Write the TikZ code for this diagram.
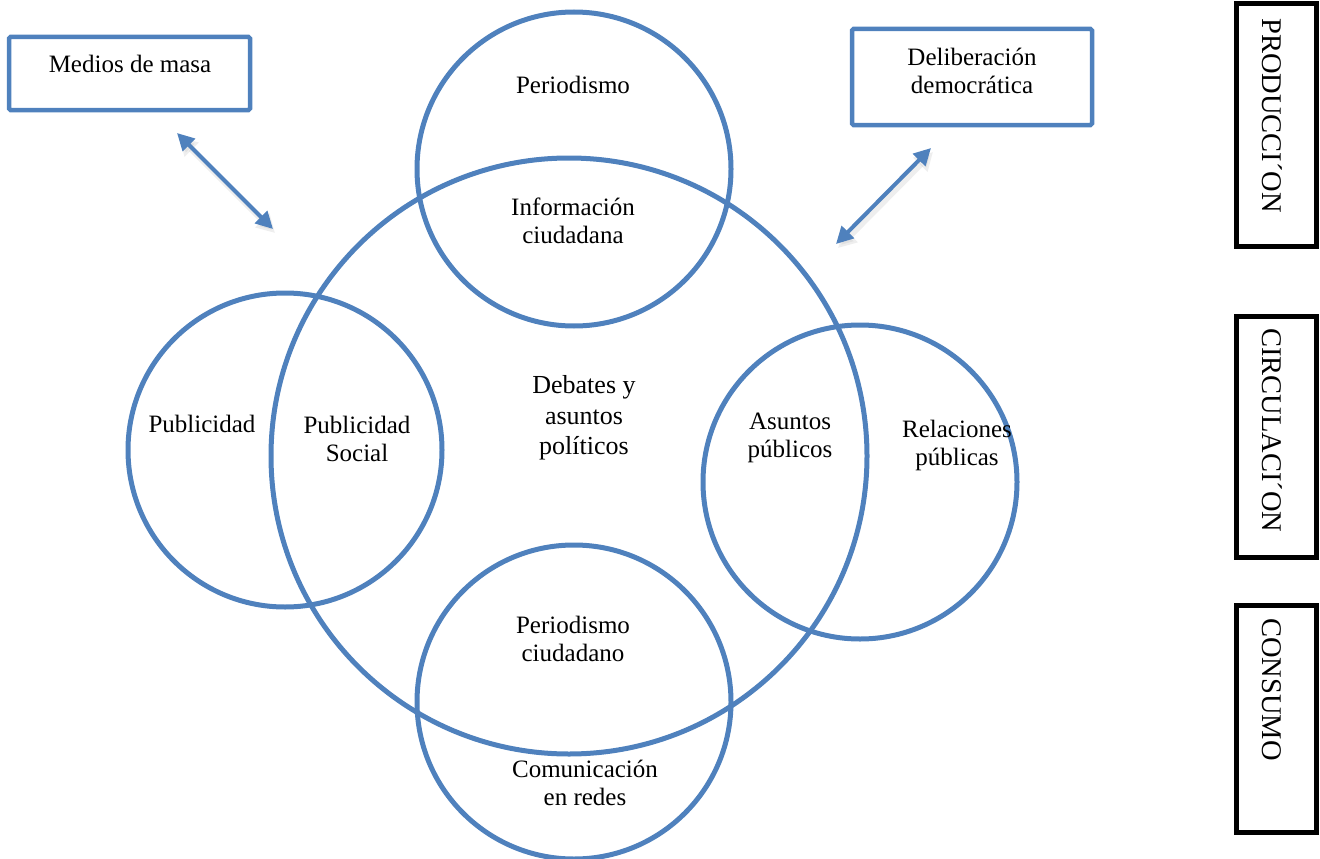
\documentclass[tikz,border=0pt]{standalone}
\usepackage{fontspec}
\setmainfont{Liberation Serif}
\usetikzlibrary{arrows.meta}
\definecolor{obl}{HTML}{4F81BD}
\tikzset{
  ring/.style={circle, draw=obl, line width=5pt, inner sep=0pt},
  bluebox/.style={draw=obl, line width=4.5pt, rounded corners=1.5pt},
  blackbox/.style={draw=black, line width=5pt},
  lbl/.style={align=center, inner sep=0pt, font=\fontsize{25}{28}\selectfont},
  biglbl/.style={align=center, inner sep=0pt, font=\fontsize{26}{30.5}\selectfont},
  vlbl/.style={rotate=-90, anchor=base west, inner sep=0pt, font=\fontsize{28.5}{30}\selectfont},
  dbl/.style={draw=obl, line width=4pt, {Triangle[width=17pt,length=17pt]}-{Triangle[width=17pt,length=17pt]}},
  dblshadow/.style={draw=black!30, opacity=0.22, line width=6pt, {Triangle[width=19pt,length=18pt]}-{Triangle[width=19pt,length=18pt]}}
}
\begin{document}
\begin{tikzpicture}[x=1pt,y=-1pt]
\useasboundingbox (0,0) rectangle (1320,859);
% circles
\node[ring, minimum size=596pt] (big) at (569,456) {};
\node[ring, minimum size=314pt] (top) at (574,169) {};
\node[ring, minimum size=314pt] (bot) at (574,702) {};
\node[ring, minimum size=314pt] (lft) at (285,450) {};
\node[ring, minimum size=314pt] (rgt) at (860,482) {};
% labels
\node[lbl] (tPer) at (573,85) {Periodismo};
\node[lbl] (tInf) at (573,221) {Información\\ciudadana};
\node[biglbl] (tDeb) at (584,418) {Debates y\\asuntos\\políticos};
\node[lbl] (tPub) at (202,424) {Publicidad};
\node[lbl] (tPubS) at (357,439) {Publicidad\\Social};
\node[lbl] (tAsu) at (790,438) {Asuntos\\públicos};
\node[lbl] (tRel) at (957,445) {Relaciones\\públicas};
\node[lbl] (tPerC) at (573,639) {Periodismo\\ciudadano};
\node[lbl] (tCom) at (585,783) {Comunicación\\en redes};
% blue boxes
\draw[bluebox] (9,37) rectangle (250,110);
\node[lbl] (tMed) at (130,64) {Medios de masa};
\draw[bluebox] (852,29) rectangle (1092,125);
\node[lbl] (tDel) at (972,71) {Deliberación\\democrática};
% arrows
\coordinate (a1) at (177,133);
\coordinate (a2) at (273,229);
\coordinate (b1) at (931,148);
\coordinate (b2) at (836,244);
\draw[dblshadow] ([shift={(2,4)}]a1) -- ([shift={(2,4)}]a2);
\draw[dblshadow] ([shift={(2,4)}]b1) -- ([shift={(2,4)}]b2);
\draw[dbl] (a1) -- (a2);
\draw[dbl] (b1) -- (b2);
% black boxes
\draw[blackbox] (1236,4) rectangle (1316,246);
\node[vlbl] (tProd) at (1262,18) {PRODUCCI´ON};
\draw[blackbox] (1236,316) rectangle (1316,557);
\node[vlbl] (tCirc) at (1262,328) {CIRCULACI´ON};
\draw[blackbox] (1236,605) rectangle (1316,832);
\node[vlbl] (tCons) at (1262,618) {CONSUMO};
\end{tikzpicture}
\end{document}
